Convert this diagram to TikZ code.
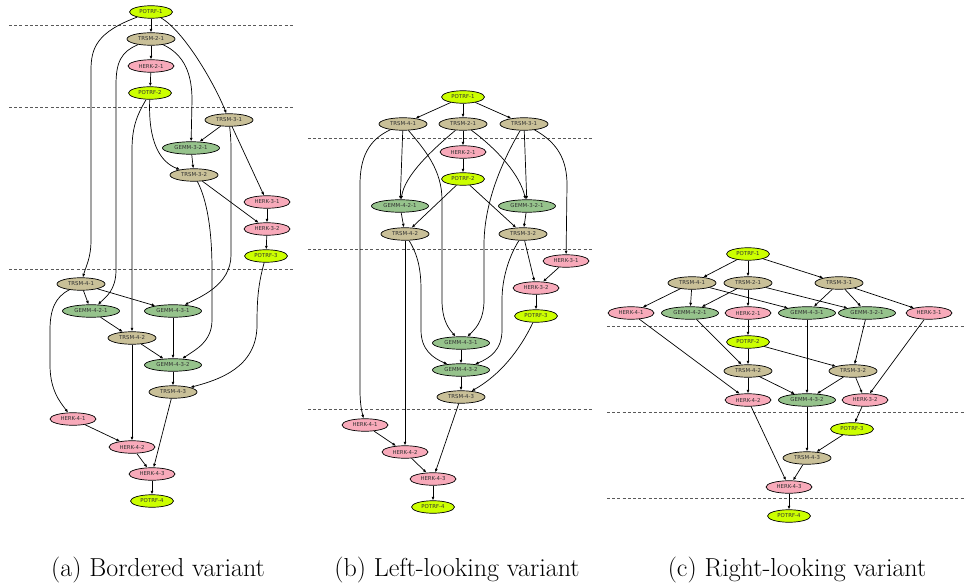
\documentclass[tikz,border=0pt]{standalone}
\usepackage{fontspec}
\usetikzlibrary{shapes.geometric,arrows.meta}
\newfontfamily\nodefont{DejaVu Sans}
\definecolor{cpotrf}{RGB}{204,255,0}
\definecolor{ctrsm}{RGB}{201,192,152}
\definecolor{cherk}{RGB}{248,170,186}
\definecolor{cgemm}{RGB}{150,195,140}
\definecolor{ctext}{RGB}{50,50,50}
\tikzset{
  task/.style={ellipse,draw=black,line width=0.7pt,inner sep=0pt,minimum height=12.5pt,
    font=\nodefont\fontsize{5.4}{6}\selectfont,text=ctext},
  potrf/.style={task,fill=cpotrf,minimum width=43pt},
  trsm/.style={task,fill=ctrsm,minimum width=48pt},
  herk/.style={task,fill=cherk,minimum width=46pt},
  gemm/.style={task,fill=cgemm,minimum width=57pt},
  dep/.style={draw=black,line width=0.7pt,-{Latex[length=3.6pt,width=3pt]}},
  sep/.style={draw=black!65,line width=0.8pt,dash pattern=on 3pt off 2.2pt},
  capt/.style={font=\fontsize{26}{30}\selectfont,anchor=base}
}
\begin{document}
\begin{tikzpicture}[x=1pt,y=-1pt]
\useasboundingbox (0,0) rectangle (966,588);
% ---------------- (a) Bordered ----------------
\draw[sep] (9,25) -- (293,25);
\draw[sep] (9,107) -- (293,107);
\draw[sep] (9,269) -- (293,269);
\node[potrf] (a-p1) at (151,12) {POTRF-1};
\node[trsm]  (a-t21) at (151,39) {TRSM-2-1};
\node[herk]  (a-h21) at (151,66) {HERK-2-1};
\node[potrf] (a-p2) at (150,93) {POTRF-2};
\node[trsm]  (a-t31) at (229,120) {TRSM-3-1};
\node[gemm]  (a-g321) at (191,148) {GEMM-3-2-1};
\node[trsm]  (a-t32) at (194,175) {TRSM-3-2};
\node[herk]  (a-h31) at (267,202) {HERK-3-1};
\node[herk]  (a-h32) at (267,229) {HERK-3-2};
\node[potrf] (a-p3) at (266,256) {POTRF-3};
\node[trsm]  (a-t41) at (81,284) {TRSM-4-1};
\node[gemm]  (a-g421) at (91,311) {GEMM-4-2-1};
\node[gemm]  (a-g431) at (173,311) {GEMM-4-3-1};
\node[trsm]  (a-t42) at (132,338) {TRSM-4-2};
\node[gemm]  (a-g432) at (173,365) {GEMM-4-3-2};
\node[trsm]  (a-t43) at (173,392) {TRSM-4-3};
\node[herk]  (a-h41) at (73,419) {HERK-4-1};
\node[herk]  (a-h42) at (132,447) {HERK-4-2};
\node[herk]  (a-h43) at (152,474) {HERK-4-3};
\node[potrf] (a-p4) at (152,501) {POTRF-4};
\draw[dep] (a-p1) -- (a-t21);
\draw[dep] (a-p1) .. controls (97,32) and (91,48) .. (91,70) -- (91,240) .. controls (91,258) and (86,266) .. (a-t41);
\draw[dep] (a-p1) .. controls (185,32) and (215,85) .. (a-t31);
\draw[dep] (a-t21) -- (a-h21);
\draw[dep] (a-t21) .. controls (121,52) and (116,62) .. (116,85) -- (116,270) .. controls (116,290) and (106,297) .. (a-g421);
\draw[dep] (a-t21) .. controls (185,55) and (192,75) .. (192,100) -- (a-g321);
\draw[dep] (a-h21) -- (a-p2);
\draw[dep] (a-p2) .. controls (137,115) and (132,127) .. (132,150) -- (a-t42);
\draw[dep] (a-p2) .. controls (148,142) and (160,162) .. (a-t32);
\draw[dep] (a-t31) -- (a-g321);
\draw[dep] (a-t31) -- (a-h31);
\draw[dep] (a-t31) .. controls (231,140) .. (231,160) -- (231,255) .. controls (231,285) and (200,297) .. (a-g431);
\draw[dep] (a-g321) -- (a-t32);
\draw[dep] (a-t32) -- (a-h32);
\draw[dep] (a-t32) .. controls (207,200) and (212,230) .. (212,270) -- (212,320) .. controls (212,342) and (195,350) .. (a-g432);
\draw[dep] (a-h31) -- (a-h32);
\draw[dep] (a-h32) -- (a-p3);
\draw[dep] (a-p3) .. controls (258,285) and (257,300) .. (257,325) .. controls (257,368) and (218,380) .. (a-t43);
\draw[dep] (a-t41) -- (a-g421);
\draw[dep] (a-t41) -- (a-g431);
\draw[dep] (a-t41) .. controls (55,297) and (50,310) .. (50,330) -- (50,365) .. controls (50,390) and (60,402) .. (a-h41);
\draw[dep] (a-g421) -- (a-t42);
\draw[dep] (a-g431) -- (a-g432);
\draw[dep] (a-t42) -- (a-g432);
\draw[dep] (a-t42) -- (a-h42);
\draw[dep] (a-g432) -- (a-t43);
\draw[dep] (a-t43) -- (a-h43);
\draw[dep] (a-h41) -- (a-h42);
\draw[dep] (a-h42) -- (a-h43);
\draw[dep] (a-h43) -- (a-p4);
% ---------------- (b) Left-looking ----------------
\draw[sep] (308,138) -- (592,138);
\draw[sep] (308,249) -- (592,249);
\draw[sep] (308,409) -- (592,409);
\node[potrf] (b-p1) at (463,97) {POTRF-1};
\node[trsm]  (b-t41) at (403,124) {TRSM-4-1};
\node[trsm]  (b-t21) at (463,124) {TRSM-2-1};
\node[trsm]  (b-t31) at (524,124) {TRSM-3-1};
\node[herk]  (b-h21) at (463,152) {HERK-2-1};
\node[potrf] (b-p2) at (463,179) {POTRF-2};
\node[gemm]  (b-g421) at (400,206) {GEMM-4-2-1};
\node[gemm]  (b-g321) at (527,206) {GEMM-3-2-1};
\node[trsm]  (b-t42) at (405,234) {TRSM-4-2};
\node[trsm]  (b-t32) at (523,234) {TRSM-3-2};
\node[herk]  (b-h31) at (566,261) {HERK-3-1};
\node[herk]  (b-h32) at (536,288) {HERK-3-2};
\node[potrf] (b-p3) at (536,316) {POTRF-3};
\node[gemm]  (b-g431) at (461,343) {GEMM-4-3-1};
\node[gemm]  (b-g432) at (461,370) {GEMM-4-3-2};
\node[trsm]  (b-t43) at (461,397) {TRSM-4-3};
\node[herk]  (b-h41) at (365,425) {HERK-4-1};
\node[herk]  (b-h42) at (405,452) {HERK-4-2};
\node[herk]  (b-h43) at (433,479) {HERK-4-3};
\node[potrf] (b-p4) at (433,507) {POTRF-4};
\draw[dep] (b-p1) -- (b-t41);
\draw[dep] (b-p1) -- (b-t21);
\draw[dep] (b-p1) -- (b-t31);
\draw[dep] (b-t41) -- (b-g421);
\draw[dep] (b-t41) .. controls (368,140) and (360,158) .. (360,185) -- (360,390) .. controls (360,405) and (362,412) .. (b-h41);
\draw[dep] (b-t41) .. controls (425,150) and (442,170) .. (442,200) -- (442,300) .. controls (442,322) and (450,330) .. (b-g431);
\draw[dep] (b-t21) -- (b-h21);
\draw[dep] (b-t21) .. controls (432,150) and (405,175) .. (b-g421);
\draw[dep] (b-t21) .. controls (498,150) and (520,175) .. (b-g321);
\draw[dep] (b-t31) -- (b-g321);
\draw[dep] (b-t31) .. controls (500,165) and (484,205) .. (484,245) -- (484,300) .. controls (484,322) and (474,330) .. (b-g431);
\draw[dep] (b-t31) .. controls (558,143) and (567,160) .. (567,185) -- (b-h31);
\draw[dep] (b-h21) -- (b-p2);
\draw[dep] (b-p2) -- (b-t42);
\draw[dep] (b-p2) -- (b-t32);
\draw[dep] (b-g421) -- (b-t42);
\draw[dep] (b-g321) -- (b-t32);
\draw[dep] (b-t42) -- (b-h42);
\draw[dep] (b-t42) .. controls (418,255) and (421,270) .. (421,290) -- (421,330) .. controls (421,350) and (433,358) .. (b-g432);
\draw[dep] (b-t32) .. controls (508,258) and (502,280) .. (502,300) -- (502,330) .. controls (502,350) and (490,358) .. (b-g432);
\draw[dep] (b-t32) -- (b-h32);
\draw[dep] (b-h31) -- (b-h32);
\draw[dep] (b-h32) -- (b-p3);
\draw[dep] (b-p3) .. controls (520,350) and (500,375) .. (b-t43);
\draw[dep] (b-g431) -- (b-g432);
\draw[dep] (b-g432) -- (b-t43);
\draw[dep] (b-t43) -- (b-h43);
\draw[dep] (b-h41) -- (b-h42);
\draw[dep] (b-h42) -- (b-h43);
\draw[dep] (b-h43) -- (b-p4);
% ---------------- (c) Right-looking ----------------
\draw[sep] (607,326) -- (966,326);
\draw[sep] (607,412) -- (966,412);
\draw[sep] (607,498) -- (966,498);
\node[potrf] (c-p1) at (748,254) {POTRF-1};
\node[trsm]  (c-t41) at (692,283) {TRSM-4-1};
\node[trsm]  (c-t21) at (748,283) {TRSM-2-1};
\node[trsm]  (c-t31) at (839,283) {TRSM-3-1};
\node[herk]  (c-h41) at (631,313) {HERK-4-1};
\node[gemm]  (c-g421) at (690,313) {GEMM-4-2-1};
\node[herk]  (c-h21) at (748,313) {HERK-2-1};
\node[gemm]  (c-g431) at (807,313) {GEMM-4-3-1};
\node[gemm]  (c-g321) at (867,313) {GEMM-3-2-1};
\node[herk]  (c-h31) at (929,313) {HERK-3-1};
\node[potrf] (c-p2) at (748,342) {POTRF-2};
\node[trsm]  (c-t42) at (748,371) {TRSM-4-2};
\node[trsm]  (c-t32) at (853,371) {TRSM-3-2};
\node[herk]  (c-h42) at (748,400) {HERK-4-2};
\node[gemm]  (c-g432) at (807,400) {GEMM-4-3-2};
\node[herk]  (c-h32) at (865,400) {HERK-3-2};
\node[potrf] (c-p3) at (852,429) {POTRF-3};
\node[trsm]  (c-t43) at (807,458) {TRSM-4-3};
\node[herk]  (c-h43) at (789,487) {HERK-4-3};
\node[potrf] (c-p4) at (789,516) {POTRF-4};
\draw[dep] (c-p1) -- (c-t41);
\draw[dep] (c-p1) -- (c-t21);
\draw[dep] (c-p1) -- (c-t31);
\draw[dep] (c-t41) -- (c-h41);
\draw[dep] (c-t41) -- (c-g421);
\draw[dep] (c-t41) -- (c-g431);
\draw[dep] (c-t21) -- (c-g421);
\draw[dep] (c-t21) -- (c-h21);
\draw[dep] (c-t21) -- (c-g321);
\draw[dep] (c-t31) -- (c-g431);
\draw[dep] (c-t31) -- (c-g321);
\draw[dep] (c-t31) -- (c-h31);
\draw[dep] (c-h41) -- (c-h42);
\draw[dep] (c-g421) -- (c-t42);
\draw[dep] (c-h21) -- (c-p2);
\draw[dep] (c-g431) -- (c-g432);
\draw[dep] (c-g321) -- (c-t32);
\draw[dep] (c-h31) -- (c-h32);
\draw[dep] (c-p2) -- (c-t42);
\draw[dep] (c-p2) -- (c-t32);
\draw[dep] (c-t42) -- (c-h42);
\draw[dep] (c-t42) -- (c-g432);
\draw[dep] (c-t32) -- (c-g432);
\draw[dep] (c-t32) -- (c-h32);
\draw[dep] (c-h42) -- (c-h43);
\draw[dep] (c-g432) -- (c-t43);
\draw[dep] (c-h32) -- (c-p3);
\draw[dep] (c-p3) -- (c-t43);
\draw[dep] (c-t43) -- (c-h43);
\draw[dep] (c-h43) -- (c-p4);
% ---------------- captions ----------------
\node[capt] (capa) at (158,576) {(a) Bordered variant};
\node[capt] (capb) at (457,576) {(b) Left-looking variant};
\node[capt] (capc) at (797,576) {(c) Right-looking variant};
\end{tikzpicture}
\end{document}
